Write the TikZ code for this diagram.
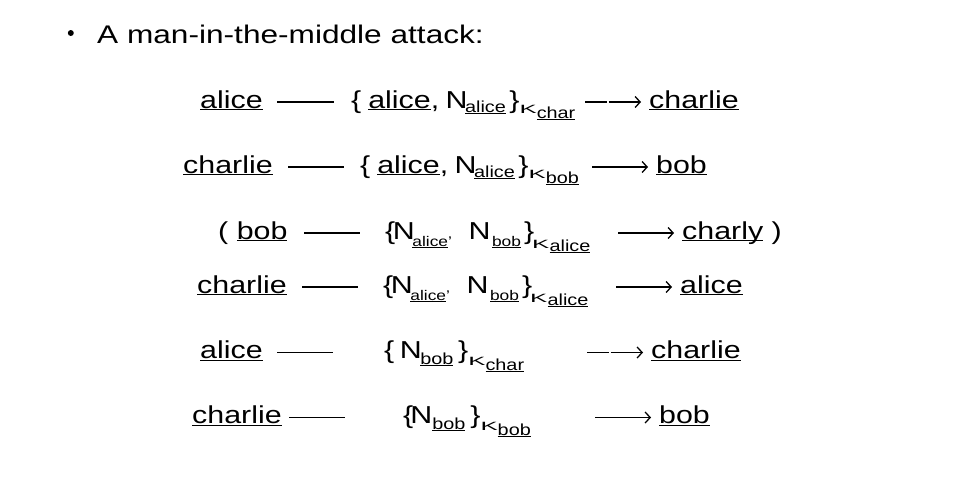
\documentclass[tikz,border=0pt]{standalone}
\usepackage{fontspec}
\setmainfont[FakeStretch=1.24]{Liberation Sans}
\usepackage{graphicx}
\usetikzlibrary{arrows.meta}
\newlength\ulw
\newcommand\uu[1]{\settowidth\ulw{#1}\rlap{\rule[-0.1em]{\ulw}{0.055em}}#1}
% subscript: size, drop, text
\newcommand\sbx[3]{\raisebox{-#2pt}{\fontsize{#1}{#1}\selectfont #3}}
% key letter K at drop
\newcommand\kk[1]{\raisebox{-#1pt}{\fontsize{16}{16}\selectfont\scalebox{1.3}[0.75]{K}}}
\tikzset{
  txt/.style={anchor=base west, inner sep=0pt, font=\fontsize{24.5}{24.5}\selectfont},
  ttl/.style={anchor=base west, inner sep=0pt, font=\fontsize{25.5}{25.5}\selectfont},
  wire/.style={line width=1.3pt},
  arr/.style={line width=1.3pt, -{Straight Barb[length=5pt,width=11pt]}},
  gaparr/.style={arr, dash pattern=on 22pt off 1.5pt on 60pt}
}
\begin{document}
\begin{tikzpicture}[x=1pt,y=-1pt]
\useasboundingbox[fill=white] (0,0) rectangle (960,491);
% title
\node[circle, fill, inner sep=0pt, minimum size=6pt] (bul) at (70.8,33) {};
\node[ttl] (title) at (97,43.3) {A man-in-the-middle attack:};
% row 1
\node[txt] (s1) at (200,108) {\uu{alice}};
\node[txt] (m1) at (351,108) {\{\hspace{7pt}\uu{alice},\hspace{6.5pt}N\hspace{-2.6pt}\sbx{16}{4.5}{\uu{alice}}\hspace{3.5pt}\}\kk{5.5}\sbx{16}{10.5}{\uu{char}}};
\node[txt] (r1) at (649,108) {\uu{charlie}};
\coordinate (a1) at (277,102); \coordinate (b1) at (334,102);
\coordinate (c1) at (585,102); \coordinate (d1) at (641,102);
\draw[wire] (a1) -- (b1);
\draw[gaparr] (c1) -- (d1);
% row 2
\node[txt] (s2) at (183,173) {\uu{charlie}};
\node[txt] (m2) at (360,173) {\{\hspace{7pt}\uu{alice},\hspace{6.5pt}N\hspace{-2.6pt}\sbx{16}{4.5}{\uu{alice}}\hspace{3.5pt}\}\kk{5.5}\sbx{16}{10.5}{\uu{bob}}};
\node[txt] (r2) at (656,173) {\uu{bob}};
\coordinate (a2) at (288,167); \coordinate (b2) at (344,167);
\coordinate (c2) at (592,167); \coordinate (d2) at (648,167);
\draw[wire] (a2) -- (b2);
\draw[arr] (c2) -- (d2);
% row 3
\node[txt] (s3) at (218,239) {( \uu{bob}};
\node[txt] (m3) at (385,239) {\{\hspace{-2.5pt}N\hspace{-2.4pt}\sbx{14}{7}{\uu{alice}’}\hspace{16.7pt}N\hspace{1.5pt}\sbx{14}{7}{\uu{bob}}\hspace{3pt}\}\hspace{-2.2pt}\kk{9}\hspace{0.4pt}\sbx{16}{12.5}{\uu{alice}}};
\node[txt] (r3) at (682,239) {\uu{charly} )};
\coordinate (a3) at (304,233); \coordinate (b3) at (360,233);
\coordinate (c3) at (618,233); \coordinate (d3) at (674,233);
\draw[wire] (a3) -- (b3);
\draw[arr] (c3) -- (d3);
% row 4
\node[txt] (s4) at (197,293) {\uu{charlie}};
\node[txt] (m4) at (383,293) {\{\hspace{-2.5pt}N\hspace{-2.4pt}\sbx{14}{7}{\uu{alice}’}\hspace{16.7pt}N\hspace{1.5pt}\sbx{14}{7}{\uu{bob}}\hspace{3pt}\}\hspace{-2.2pt}\kk{9}\hspace{0.4pt}\sbx{16}{12.5}{\uu{alice}}};
\node[txt] (r4) at (680,293) {\uu{alice}};
\coordinate (a4) at (302,287); \coordinate (b4) at (358,287);
\coordinate (c4) at (616,287); \coordinate (d4) at (672,287);
\draw[wire] (a4) -- (b4);
\draw[arr] (c4) -- (d4);
% row 5
\node[txt] (s5) at (200,358.5) {\uu{alice}};
\node[txt] (m5) at (384,358.5) {\{\hspace{5.5pt}N\hspace{-1.4pt}\sbx{16}{6}{\uu{bob}}\hspace{4.7pt}\}\kk{7}\sbx{16}{12}{\uu{char}}};
\node[txt] (r5) at (651,358.5) {\uu{charlie}};
\coordinate (a5) at (277,352.5); \coordinate (b5) at (333,352.5);
\coordinate (c5) at (587,352.5); \coordinate (d5) at (643,352.5);
\draw[wire] (a5) -- (b5);
\draw[gaparr] (c5) -- (d5);
% row 6
\node[txt] (s6) at (192,423.5) {\uu{charlie}};
\node[txt] (m6) at (403,423.5) {\{\hspace{-3pt}N\sbx{16}{6}{\uu{bob}}\hspace{5pt}\}\kk{7}\sbx{16}{12}{\uu{bob}}};
\node[txt] (r6) at (659,423.5) {\uu{bob}};
\coordinate (a6) at (289,417.5); \coordinate (b6) at (345,417.5);
\coordinate (c6) at (595,417.5); \coordinate (d6) at (651,417.5);
\draw[wire] (a6) -- (b6);
\draw[arr] (c6) -- (d6);
\end{tikzpicture}
\end{document}
